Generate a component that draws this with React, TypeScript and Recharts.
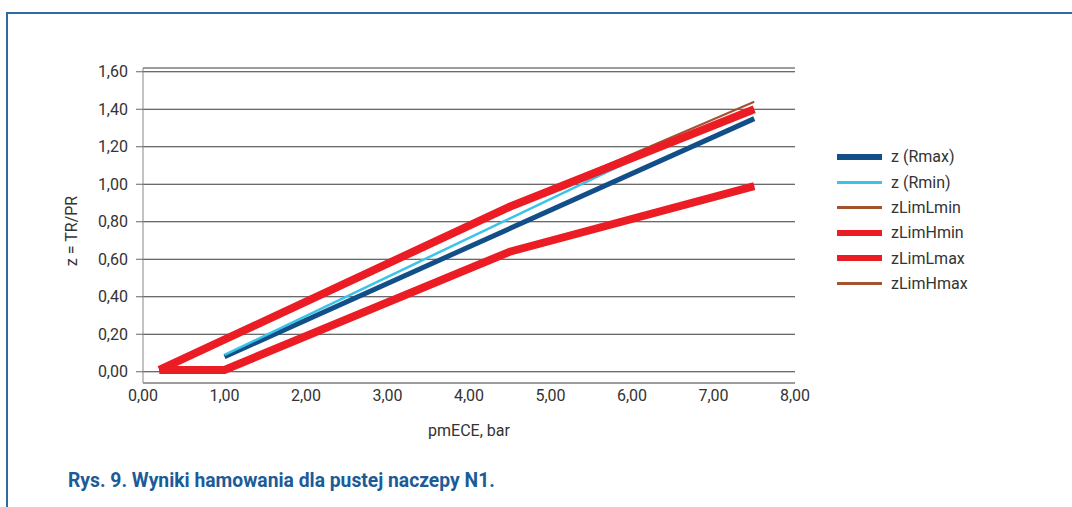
import React from 'react';
import { CartesianGrid, Line, LineChart, XAxis, YAxis, Label } from 'recharts';

type Pt = { x: number; y: number };

const xTicks = [0, 1, 2, 3, 4, 5, 6, 7, 8];
const yTicks = [0, 0.2, 0.4, 0.6, 0.8, 1.0, 1.2, 1.4, 1.6];

const zRmax: Pt[] = [{ x: 1.0, y: 0.08 }, { x: 7.5, y: 1.35 }];
const zRmin: Pt[] = [{ x: 1.0, y: 0.09 }, { x: 6.1, y: 1.15 }, { x: 7.5, y: 1.4 }];
const zLimLmin: Pt[] = [{ x: 0.2, y: 0.01 }, { x: 4.5, y: 0.88 }, { x: 7.5, y: 1.44 }];
const zLimHmin: Pt[] = [{ x: 0.2, y: 0.01 }, { x: 4.5, y: 0.88 }, { x: 7.5, y: 1.4 }];
const zLimLmax: Pt[] = [{ x: 0.2, y: 0.01 }, { x: 1.0, y: 0.01 }, { x: 4.5, y: 0.64 }, { x: 7.5, y: 0.99 }];
const zLimHmax: Pt[] = [{ x: 0.2, y: 0.01 }, { x: 1.0, y: 0.01 }, { x: 4.5, y: 0.64 }, { x: 7.5, y: 0.99 }];

// legend order
const series = [
  { name: 'z (Rmax)', data: zRmax, color: '#124f88', width: 5 },
  { name: 'z (Rmin)', data: zRmin, color: '#3cc3ea', width: 2.5 },
  { name: 'zLimLmin', data: zLimLmin, color: '#a3522e', width: 2 },
  { name: 'zLimHmin', data: zLimHmin, color: '#ec1c24', width: 8 },
  { name: 'zLimLmax', data: zLimLmax, color: '#ec1c24', width: 8 },
  { name: 'zLimHmax', data: zLimHmax, color: '#a3522e', width: 2 },
];

// thin brown lines sit under the red ones
const drawOrder = [2, 5, 0, 1, 3, 4];

const font = 'Roboto, "Noto Sans", sans-serif';
const fmt = (v: number) => v.toFixed(2).replace('.', ',');

const LegendBox = () => (
  <div style={{ position: 'absolute', left: 837, top: 144, fontFamily: font, fontSize: 16, color: '#333' }}>
    {series.map((s) => (
      <div key={s.name} style={{ display: 'flex', alignItems: 'center', height: 25.4 }}>
        <div style={{ width: 45, height: s.width >= 5 ? 6 : s.width > 2 ? 3 : 2.5, background: s.color, marginRight: 9 }} />
        <span>{s.name}</span>
      </div>
    ))}
  </div>
);

const App: React.FC = () => (
  <div style={{ position: 'absolute', left: 0, top: 0, width: 1072, height: 507, background: '#fff' }}>
    <div
      style={{
        position: 'absolute',
        left: 6,
        top: 12,
        width: 1066,
        height: 495,
        borderTop: '2px solid #2e6aa3',
        borderLeft: '2px solid #2e6aa3',
        boxSizing: 'border-box',
      }}
    />
    <LineChart
      width={1072}
      height={507}
      margin={{ top: 68, right: 277, bottom: 68, left: 50 }}
      style={{ position: 'absolute', left: 0, top: 0 }}
    >
      <CartesianGrid vertical={false} stroke="#3a3a3a" strokeWidth={1} />
      <XAxis
        type="number"
        dataKey="x"
        domain={[0, 8]}
        ticks={xTicks}
        tickFormatter={fmt}
        axisLine={false}
        tickLine={false}
        tickSize={0}
        tickMargin={7}
        height={56}
        tick={{ fill: '#333', fontSize: 16, fontFamily: font }}
        allowDuplicatedCategory={false}
      >
        <Label value="pmECE, bar" position="insideBottom" offset={3} fill="#333" fontSize={16} fontFamily={font} />
      </XAxis>
      <YAxis
        type="number"
        dataKey="y"
        domain={[-0.06, 1.62]}
        ticks={yTicks}
        tickFormatter={fmt}
        width={93}
        stroke="#888"
        tickLine={{ stroke: '#666' }}
        tickSize={7}
        tickMargin={8}
        tick={{ fill: '#333', fontSize: 16, fontFamily: font }}
      >
        <Label
          content={() => (
            <text
              x={71}
              y={231}
              transform="rotate(-90, 71, 231)"
              textAnchor="middle"
              dominantBaseline="central"
              fill="#333"
              fontSize={16}
              fontFamily={font}
            >
              z = TR/PR
            </text>
          )}
        />
      </YAxis>
      {drawOrder.map((i) => {
        const s = series[i];
        return (
          <Line
            key={s.name}
            data={s.data}
            dataKey="y"
            name={s.name}
            type="linear"
            stroke={s.color}
            strokeWidth={s.width}
            dot={false}
            activeDot={false}
            isAnimationActive={false}
          />
        );
      })}
    </LineChart>
    <LegendBox />
    <div
      style={{
        position: 'absolute',
        left: 68,
        top: 469,
        fontFamily: font,
        fontWeight: 700,
        fontSize: 19.3,
        color: '#1b5b97',
        whiteSpace: 'nowrap',
      }}
    >
      Rys. 9. Wyniki hamowania dla pustej naczepy N1.
    </div>
  </div>
);

export default App;
